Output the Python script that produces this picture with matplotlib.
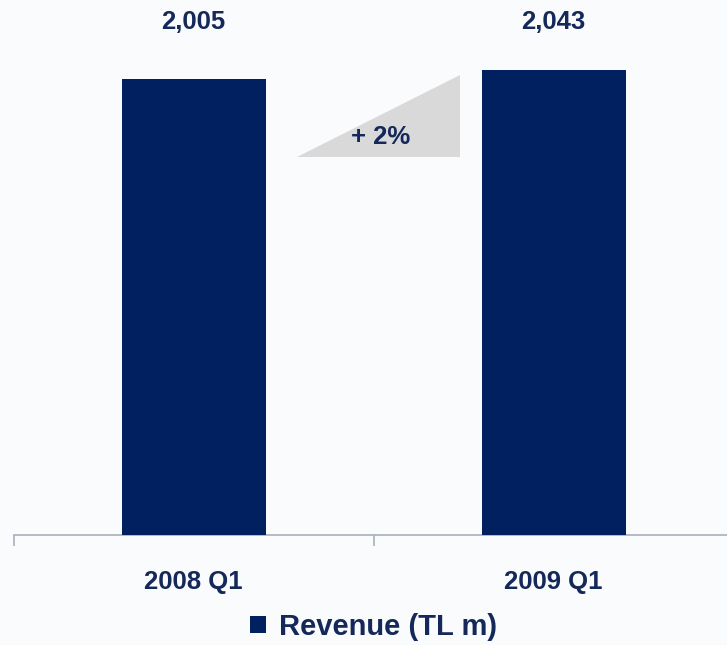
import matplotlib
matplotlib.use("Agg")
import matplotlib.pyplot as plt
from matplotlib.patches import Polygon, Patch

# Quarterly revenue, TL million
periods = ["2008 Q1", "2009 Q1"]
revenue = [2005, 2043]
series_name = "Revenue (TL m)"

navy = "#002060"
text_navy = "#14285a"
bg = "#fafbfd"

plt.rcParams["font.family"] = ["Liberation Sans", "DejaVu Sans"]

W, H = 727, 645
fig = plt.figure(figsize=(W / 100, H / 100), dpi=100, facecolor=bg)
# axes: baseline at y=535 px, category pitch 360 px
ax = fig.add_axes([13.5 / W, (H - 535) / H, 720 / W, 523 / H], facecolor=bg)

x = list(range(len(periods)))
ax.bar(x, revenue, width=0.4, color=navy, zorder=3)
ax.set_xlim(-0.5, 1.5)
ax.set_ylim(0, 2300)

for s in ["top", "right", "left"]:
    ax.spines[s].set_visible(False)
ax.spines["bottom"].set_color("#a9afbd")
ax.spines["bottom"].set_linewidth(1.2)
ax.set_yticks([])

ax.set_xticks(x)
ax.set_xticklabels(periods, fontsize=18.5, fontweight="bold", color=text_navy)
ax.tick_params(axis="x", which="major", length=0, pad=25)
ax.set_xticks([-0.5, 0.5, 1.5], minor=True)
ax.tick_params(axis="x", which="minor", length=8, width=1.2, color="#a9afbd", direction="out")

# value labels on a common line above the bars
label_y = max(revenue) + 215
for xi, v in zip(x, revenue):
    ax.text(xi, label_y, f"{v:,}", ha="center", va="center",
            fontsize=18.5, fontweight="bold", color=text_navy)

# growth wedge between the bars
growth = (revenue[1] - revenue[0]) / revenue[0] * 100
x0, x1 = 0.2875, 0.740
y0, y1 = 1663, sum(revenue) / 2
ax.add_patch(Polygon([(x0, y0), (x1, y0), (x1, y1)], closed=True,
                     facecolor="#d9d9d9", edgecolor="none", zorder=2))
ax.text(0.5194, 1752, f"+ {growth:.0f}%", ha="center", va="center",
        fontsize=18.5, fontweight="bold", color=text_navy, zorder=4)

fig.legend(handles=[Patch(facecolor=navy, edgecolor="none", label=series_name)],
           loc="center", bbox_to_anchor=(373.5 / W, 1 - 627 / H),
           frameon=False, fontsize=21, handlelength=0.55, handleheight=0.55,
           handletextpad=0.45, borderpad=0,
           prop={"weight": "bold", "size": 21})
for t in fig.legends[0].get_texts():
    t.set_color(text_navy)

fig.savefig("out.png", dpi=100, facecolor=bg)
